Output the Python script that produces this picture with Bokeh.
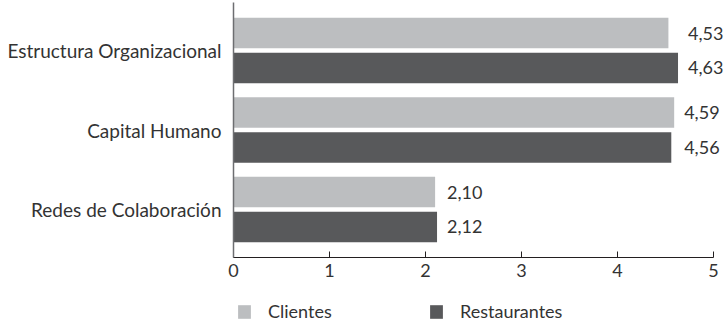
from bokeh.plotting import figure
from bokeh.layouts import column
from bokeh.models import (FactorRange, Range1d, ColumnDataSource, Legend, LegendItem,
                          FixedTicker)
from bokeh.transform import dodge
from bokeh.core.properties import value
from bokeh.embed import file_html
from bokeh.resources import INLINE

categories = ["Estructura Organizacional", "Capital Humano", "Redes de Colaboración"]
series = ["Clientes", "Restaurantes"]
clientes = [4.53, 4.59, 2.10]
restaurantes = [4.63, 4.56, 2.12]
x_ticks = [0, 1, 2, 3, 4, 5]
colors = ["#bcbec0", "#58595b"]

FONT = "Lato"
TEXT = "#333333"
FS = "18px"


def fmt(v):
    return f"{v:.2f}".replace(".", ",")


src = ColumnDataSource(dict(
    cat=categories,
    clientes=clientes,
    restaurantes=restaurantes,
    lab_c=[fmt(v) for v in clientes],
    lab_r=[fmt(v) for v in restaurantes],
    label_x=[max(a, b) for a, b in zip(clientes, restaurantes)],
))

y_range = FactorRange(*reversed(categories))
y_range.range_padding = 0.1038
y_range.range_padding_units = "absolute"

p = figure(width=726, height=290, y_range=y_range, x_range=Range1d(0, 5.135),
           output_backend="svg", toolbar_location=None,
           min_border_left=233, min_border_right=0, min_border_top=2, min_border_bottom=33)

OFF = 0.22
H = 0.385
p.hbar(y=dodge("cat", OFF, range=p.y_range), left=0, right="clientes", height=H,
       source=src, fill_color=colors[0], line_color=None)
p.hbar(y=dodge("cat", -OFF, range=p.y_range), left=0, right="restaurantes", height=H,
       source=src, fill_color=colors[1], line_color=None)

for col, off in (("lab_c", OFF), ("lab_r", -OFF)):
    p.text(x="label_x", y=dodge("cat", off, range=p.y_range), text=col, source=src,
           x_offset=10, text_baseline="middle", text_align="left",
           text_font=value(FONT), text_font_size=FS, text_color=TEXT)

p.xaxis.ticker = FixedTicker(ticks=x_ticks)
p.xaxis.bounds = (0, 5)
p.xaxis.major_tick_in = 6
p.xaxis.major_tick_out = 0
p.xaxis.minor_tick_line_color = None
p.xaxis.axis_line_color = "#231f20"
p.xaxis.major_tick_line_color = "#231f20"
p.xaxis.major_label_standoff = 6
p.xaxis.major_label_text_font = FONT
p.xaxis.major_label_text_font_size = FS
p.xaxis.major_label_text_color = TEXT

p.yaxis.major_tick_in = 0
p.yaxis.major_tick_out = 0
p.yaxis.minor_tick_line_color = None
p.yaxis.axis_line_color = "#6d6e71"
p.yaxis.axis_line_width = 1.5
p.yaxis.major_label_standoff = 12
p.yaxis.major_label_text_font = FONT
p.yaxis.major_label_text_font_size = "19px"
p.yaxis.major_label_text_color = TEXT

p.grid.visible = False
p.outline_line_color = None

# legend strip (frame is aligned with the main plot's frame by the column layout)
lg = figure(width=726, height=33, x_range=Range1d(0, 1), y_range=Range1d(0, 1),
            output_backend="svg", toolbar_location=None,
            x_axis_type=None, y_axis_type=None,
            min_border_left=0, min_border_right=0, min_border_top=0, min_border_bottom=0)
lg.grid.visible = False
lg.outline_line_color = None
# key renderers sit outside the strip's visible range; only their legend swatches show
k_c = lg.hbar(y=-10, left=0, right=1, height=1, fill_color=colors[0], line_color=None)
k_r = lg.hbar(y=-10, left=0, right=1, height=1, fill_color=colors[1], line_color=None)

legend = Legend(items=[LegendItem(label=series[0], renderers=[k_c]),
                       LegendItem(label=series[1], renderers=[k_r])],
                orientation="horizontal", location=(3, 1),
                glyph_width=16, glyph_height=17, label_height=17, label_width=160,
                label_standoff=16, spacing=0, padding=0, margin=0,
                border_line_color=None, background_fill_alpha=0,
                label_text_font=FONT, label_text_font_size=FS, label_text_color=TEXT)
lg.add_layout(legend)

layout = column(p, lg, spacing=0)
open("out.html", "w").write(file_html(layout, INLINE))
